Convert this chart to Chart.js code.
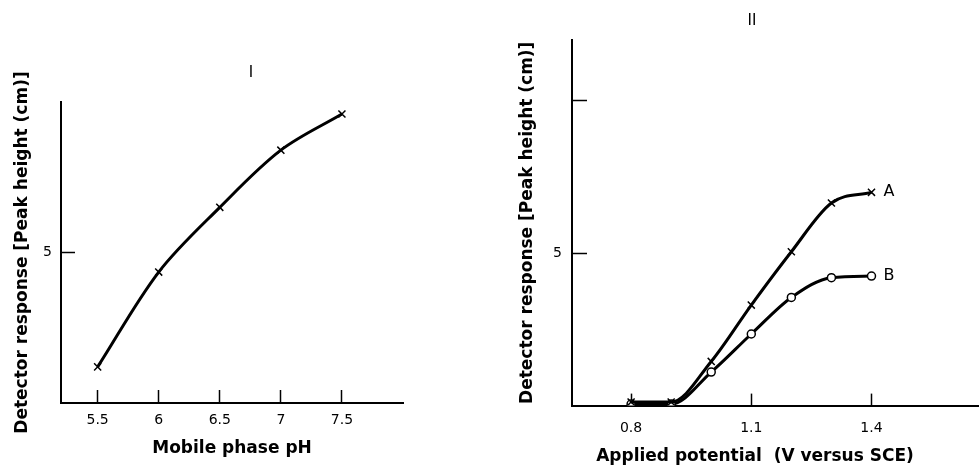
<!DOCTYPE html>
<html>
<head>
<meta charset="utf-8">
<script src="https://cdn.jsdelivr.net/npm/chart.js"></script>
<style>
  html, body { margin: 0; padding: 0; background: #fff; }
  body { width: 979px; height: 467px; overflow: hidden; position: relative; font-family: "DejaVu Sans", sans-serif; }
  .panel { position: absolute; top: 0; }
  .label { position: absolute; font-size: 15px; color: #000; transform: translate(-50%, -50%); }
</style>
</head>
<body>
<div class="panel" style="left:0px"><canvas id="chartI" width="460" height="467"></canvas></div>
<div class="panel" style="left:500px"><canvas id="chartII" width="510" height="467"></canvas></div>
<div class="label" style="left:251px; top:72px">I</div>
<div class="label" style="left:752px; top:20px">II</div>

<script>
  // panel I: response vs mobile phase pH
  const phValues = [5.5, 6, 6.5, 7, 7.5];
  const phResponse = [1.2, 4.35, 6.5, 8.4, 9.6];
  const phTicks = [5.5, 6, 6.5, 7, 7.5];
  const phTickLabels = ['5.5', '6', '6.5', '7', '7.5'];
  const respTicksI = [5];

  // panel II: response vs applied potential
  const potentials = [0.8, 0.9, 1.0, 1.1, 1.2, 1.3, 1.4];
  const seriesA = [0.12, 0.12, 1.45, 3.3, 5.05, 6.65, 7.0];
  const seriesB = [0.05, 0.05, 1.1, 2.35, 3.55, 4.2, 4.25];
  const seriesNames = ['A', 'B'];
  const potTicks = [0.8, 1.1, 1.4];
  const potTickLabels = ['0.8', '1.1', '1.4'];
  const respTicksII = [5, 10];
  const respTickLabelsII = ['5', ''];

  const font = 'DejaVu Sans';
  const yTitle = 'Detector response [Peak height (cm)]';
  const titleFont = { family: font, size: 17, weight: 'bold' };

  const toPoints = (xs, ys) => xs.map((x, i) => ({ x: x, y: ys[i] }));

  const fixedTicks = (values) => (scale) => {
    scale.ticks = values.map(v => ({ value: v }));
  };

  const endLabels = {
    id: 'endLabels',
    afterDatasetsDraw(chart) {
      const ctx = chart.ctx;
      ctx.save();
      ctx.fillStyle = '#000';
      ctx.font = '16px ' + font;
      ctx.textBaseline = 'middle';
      chart.data.datasets.forEach((ds, i) => {
        if (!ds.endLabel) return;
        const pts = chart.getDatasetMeta(i).data;
        const last = pts[pts.length - 1];
        ctx.fillText(ds.endLabel, last.x + 12, last.y);
      });
      ctx.restore();
    }
  };

  const lineStyle = {
    borderColor: '#000',
    borderWidth: 3,
    pointBorderColor: '#000',
    pointBorderWidth: 1.5,
  };

  const axisBase = (tickLength, pad) => ({
    type: 'linear',
    border: { display: true, color: '#000', width: 2 },
    grid: { display: true, drawOnChartArea: false, drawTicks: true, tickLength: tickLength, tickWidth: 1.5, tickColor: '#000' },
    ticks: { color: '#000', font: { family: font, size: 14 }, padding: pad, autoSkip: false, maxRotation: 0 },
  });

  // chart I
  const xI = axisBase(-13, 22);
  Object.assign(xI, {
    min: 5.2, max: 8.0,
    afterBuildTicks: fixedTicks(phTicks),
    afterFit: (s) => { s.height = 64; },
    title: { display: true, text: 'Mobile phase pH', color: '#000', font: titleFont, padding: { top: 0, bottom: 8 } },
  });
  xI.ticks.callback = (v) => phTickLabels[phTicks.indexOf(v)];

  const yI = axisBase(-14, 23);
  Object.assign(yI, {
    min: 0, max: 10,
    afterBuildTicks: fixedTicks(respTicksI),
    afterFit: (s) => { s.width = 61; },
    title: { display: true, text: yTitle, color: '#000', font: titleFont, padding: { top: 12, bottom: 0 } },
  });
  yI.ticks.callback = (v) => String(v);

  new Chart(document.getElementById('chartI'), {
    type: 'scatter',
    data: {
      datasets: [Object.assign({
        label: 'pH',
        data: toPoints(phValues, phResponse),
        showLine: true,
        tension: 0.33,
        pointStyle: 'crossRot',
        pointRadius: 5,
        pointBackgroundColor: '#000',
      }, lineStyle)]
    },
    options: {
      responsive: false,
      animation: false,
      layout: { padding: { top: 102, left: 0, right: 57, bottom: 0 } },
      plugins: { legend: { display: false }, tooltip: { enabled: false } },
      scales: { x: xI, y: yI },
    }
  });

  // chart II
  const xII = axisBase(-12, 26);
  Object.assign(xII, {
    min: 0.6525, max: 1.7295,
    afterBuildTicks: fixedTicks(potTicks),
    afterFit: (s) => { s.height = 41; },
  });
  xII.ticks.callback = (v) => potTickLabels[potTicks.indexOf(v)];

  const yII = axisBase(-15, 25);
  Object.assign(yII, {
    min: 0, max: 12,
    afterBuildTicks: fixedTicks(respTicksII),
    afterFit: (s) => { s.width = 72; },
    title: { display: true, text: yTitle, color: '#000', font: titleFont, padding: { top: 17, bottom: 0 } },
  });
  yII.ticks.callback = (v) => respTickLabelsII[respTicksII.indexOf(v)];

  new Chart(document.getElementById('chartII'), {
    type: 'scatter',
    data: {
      datasets: [
        Object.assign({
          label: seriesNames[0],
          endLabel: seriesNames[0],
          data: toPoints(potentials, seriesA),
          showLine: true,
          cubicInterpolationMode: 'monotone',
          pointStyle: 'crossRot',
          pointRadius: 5,
          pointBackgroundColor: '#000',
        }, lineStyle),
        Object.assign({
          label: seriesNames[1],
          endLabel: seriesNames[1],
          data: toPoints(potentials, seriesB),
          showLine: true,
          cubicInterpolationMode: 'monotone',
          pointStyle: 'circle',
          pointRadius: 4,
          pointBackgroundColor: '#fff',
        }, lineStyle),
      ]
    },
    options: {
      responsive: false,
      animation: false,
      layout: { padding: { top: 40, left: 0, right: 0, bottom: 0 } },
      plugins: {
        legend: { display: false },
        tooltip: { enabled: false },
        title: {
          display: true,
          position: 'bottom',
          text: 'Applied potential  (V versus SCE)',
          color: '#000',
          font: titleFont,
          padding: { top: 0, bottom: 0 },
        },
      },
      scales: { x: xII, y: yII },
    },
    plugins: [endLabels]
  });
</script>
</body>
</html>
